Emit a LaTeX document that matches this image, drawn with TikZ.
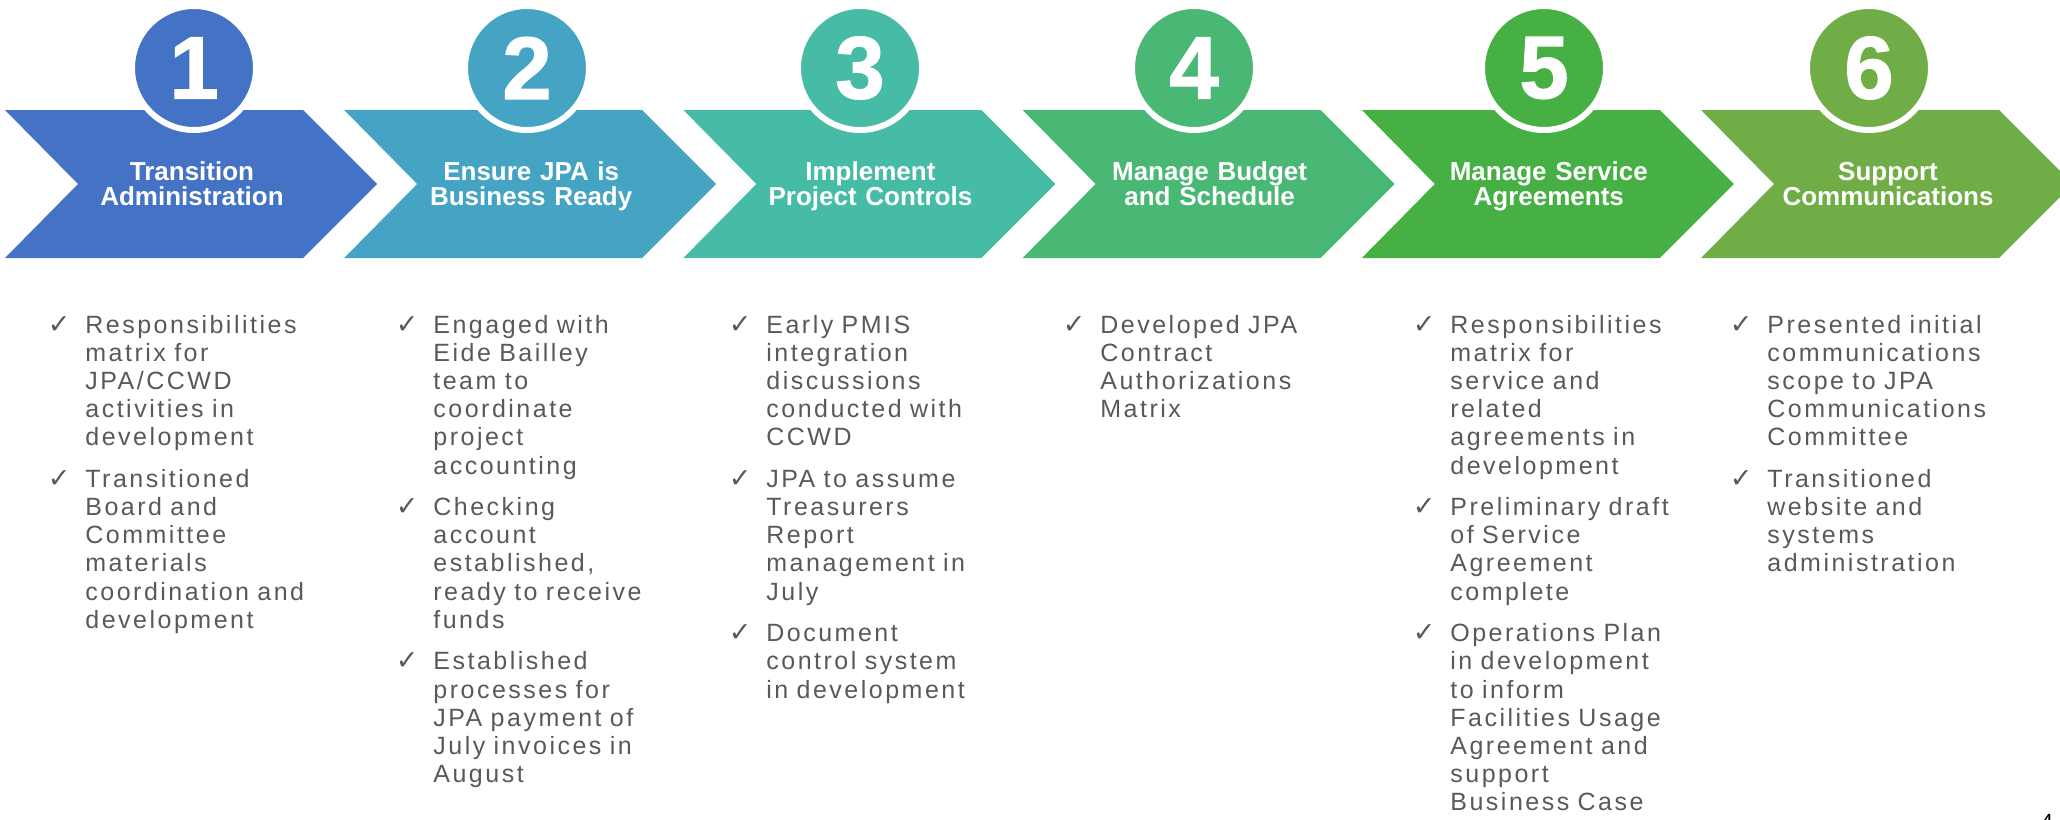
\documentclass[tikz,border=0pt]{standalone}
\usepackage{fontspec}
\setmainfont{Liberation Sans}
\newfontfamily\bodyfont{Liberation Sans}[LetterSpace=10]
\newfontfamily\tickfont{DejaVu Sans}
\newfontfamily\digitfont{Liberation Sans Bold}[FakeBold=1.2]

\definecolor{stepA}{HTML}{4472C4}
\definecolor{stepB}{HTML}{45A4C4}
\definecolor{stepC}{HTML}{46BBA6}
\definecolor{stepD}{HTML}{48B874}
\definecolor{stepE}{HTML}{47B045}
\definecolor{stepF}{HTML}{70AD47}
\definecolor{bodygray}{HTML}{595959}

% one checked entry: check mark, then the lines with a hanging indent;
% \\ breaks a line inside the same paragraph so the indent holds
\newcommand\tickitem[1]{{\let\\\newline
  \hangindent=18.75pt\hangafter=1
  \makebox[18.75pt][l]{\tickfont\fontsize{13.5}{14.1}\selectfont ✓}#1\par}}

\begin{document}
\begin{tikzpicture}[x=0.5pt,y=-0.5pt,
  badge/.style={circle, fill=#1, draw=white, line width=3pt,
    minimum size=62pt, inner sep=0pt, outer sep=0pt, text=white,
    font=\digitfont\fontsize{44.5}{44.5}\selectfont},
  headtext/.style={anchor=base, inner sep=0pt, text width=140pt,
    align=center, text=white,
    font=\bfseries\fontsize{13}{12.5}\selectfont},
  itemcol/.style={anchor=base west, inner sep=0pt, text width=300pt,
    align=left, text=bodygray,
    font=\bodyfont\fontsize{12.5}{14.1}\selectfont}]
\useasboundingbox (0,0) rectangle (2060,819);

% chevrons
\foreach \c/\L in {stepA/5, stepB/344.2, stepC/683.4, stepD/1022.6,
                   stepE/1361.8, stepF/1701}{
  \fill[\c] (\L,110) -- ({\L+298},110) -- ({\L+372},184) -- ({\L+298},258)
    -- (\L,258) -- ({\L+73},184) -- cycle;
}

% numbered badges
\foreach \n/\c/\cx in {1/stepA/194, 2/stepB/527, 3/stepC/860, 4/stepD/1194,
                       5/stepE/1544, 6/stepF/1869}{
  \node[badge=\c] (badge\n) at (\cx,68) {\n};
}

% chevron titles
\foreach \n/\L/\ta/\tb in {1/5/Transition/Administration,
    2/344.2/Ensure JPA is/Business Ready,
    3/683.4/Implement/Project Controls,
    4/1022.6/Manage Budget/and Schedule,
    5/1361.8/Manage Service/Agreements,
    6/1701/Support/Communications}{
  \node[headtext] (title\n) at ({\L+187},180) {\ta\\\tb};
}

% checked lists
\node[itemcol] (list1) at (47.5,333) {\setlength\parskip{6.65pt}%
  \tickitem{Responsibilities\\matrix for\\JPA/CCWD\\activities in\\development}%
  \tickitem{Transitioned\\Board and\\Committee\\materials\\coordination and\\development}};

\node[itemcol] (list2) at (395.5,333) {\setlength\parskip{6.65pt}%
  \tickitem{Engaged with\\Eide Bailley\\team to\\coordinate\\project\\accounting}%
  \tickitem{Checking\\account\\established,\\ready to receive\\funds}%
  \tickitem{Established\\processes for\\JPA payment of\\July invoices in\\August}};

\node[itemcol] (list3) at (728.5,333) {\setlength\parskip{6.65pt}%
  \tickitem{Early PMIS\\integration\\discussions\\conducted with\\CCWD}%
  \tickitem{JPA to assume\\Treasurers\\Report\\management in\\July}%
  \tickitem{Document\\control system\\in development}};

\node[itemcol] (list4) at (1062.5,333) {\setlength\parskip{6.65pt}%
  \tickitem{Developed JPA\\Contract\\Authorizations\\Matrix}};

\node[itemcol] (list5) at (1412.5,333) {\setlength\parskip{6.65pt}%
  \tickitem{Responsibilities\\matrix for\\service and\\related\\agreements in\\development}%
  \tickitem{Preliminary draft\\of Service\\Agreement\\complete}%
  \tickitem{Operations Plan\\in development\\to inform\\Facilities Usage\\Agreement and\\support\\Business Case}};

\node[itemcol] (list6) at (1729.5,333) {\setlength\parskip{6.65pt}%
  \tickitem{Presented initial\\communications\\scope to JPA\\Communications\\Committee}%
  \tickitem{Transitioned\\website and\\systems\\administration}};

% page number
\node[anchor=north, inner sep=0pt, font=\fontsize{11}{11}\selectfont] (pagenum) at (2047,814) {4};
\end{tikzpicture}
\end{document}
